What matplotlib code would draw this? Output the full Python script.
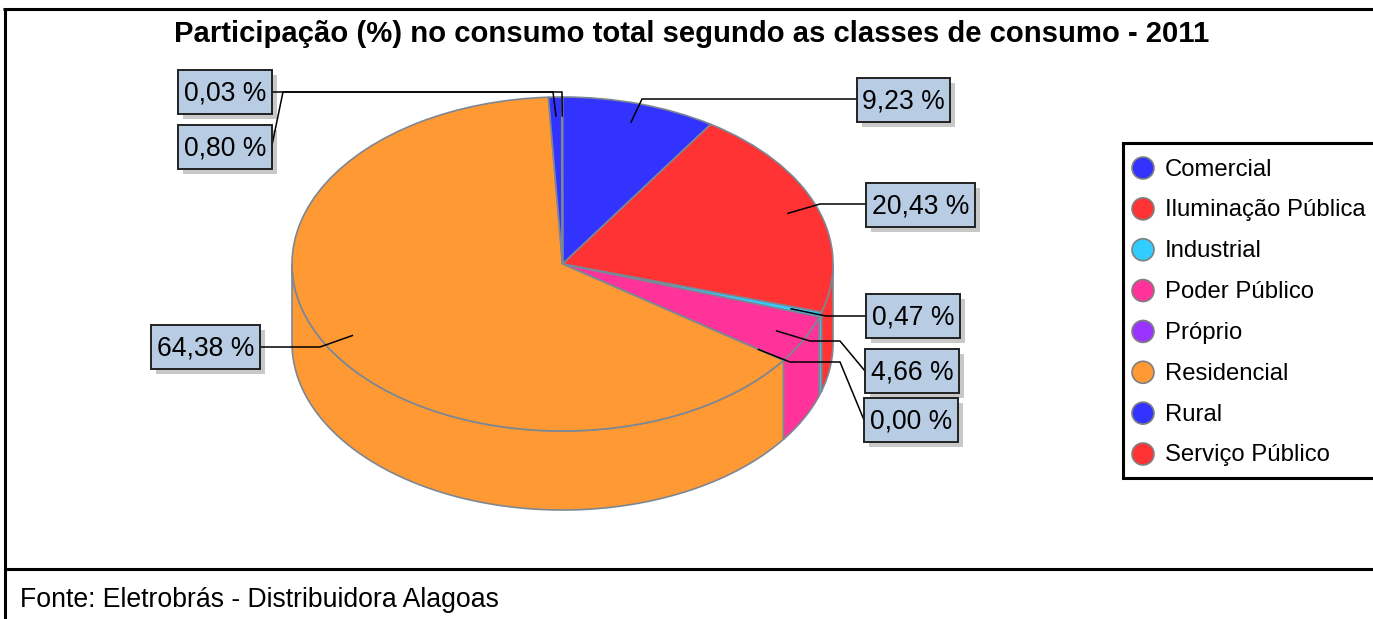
"""
Participação no consumo total - pizza 3D
"""

import numpy as np
import matplotlib
matplotlib.use("Agg")
import matplotlib.pyplot as plt
from matplotlib.patches import Rectangle

# Data
classes = ['Comercial', 'Iluminação Pública', 'Industrial', 'Poder Público',
           'Próprio', 'Residencial', 'Rural', 'Serviço Público']
shares = [9.23, 20.43, 0.47, 4.66, 0.00, 64.38, 0.80, 0.03]
colors = ['#3333ff', '#ff3333', '#33ccff', '#ff3399',
          '#9933ff', '#ff9933', '#3333ff', '#ff3333']
title = 'Participação (%) no consumo total segundo as classes de consumo - 2011'
source = 'Fonte: Eletrobrás - Distribuidora Alagoas'

W, H = 1373, 619
CX, CY, RX, RY, DEPTH = 562.5, 264, 270.5, 167, 79
EDGE = '#7d8794'

plt.rcParams['font.family'] = ['Liberation Sans', 'DejaVu Sans']

fig = plt.figure(figsize=(W / 100, H / 100), dpi=100)

# Overlay axes in pixel coordinates for frame, labels and legend
ax = fig.add_axes([0, 0, 1, 1], zorder=2)
ax.set_xlim(0, W)
ax.set_ylim(H, 0)
ax.axis('off')
ax.patch.set_alpha(0)

# Pie axes: unit circle squashed into the ellipse
pie_ax = fig.add_axes([(CX - RX) / W, 1 - (CY + RY) / H, 2 * RX / W, 2 * RY / H], zorder=1)
pie_ax.pie(shares, colors=colors, startangle=90, counterclock=False,
           wedgeprops={'edgecolor': EDGE, 'linewidth': 1.2, 'zorder': 3})
pie_ax.set_aspect('auto')
pie_ax.set_xlim(-1, 1)
pie_ax.set_ylim(-1, 1)

# Side wall of the disc, only the front half (90..270 deg clockwise from top)
total = sum(shares)
edges = np.concatenate([[0], np.cumsum(shares)]) / total * 360
drop = 2 * DEPTH / (2 * RY)
for i, color in enumerate(colors):
    t0, t1 = max(edges[i], 90), min(edges[i + 1], 270)
    if t1 <= t0:
        continue
    t = np.radians(np.linspace(t0, t1, 120))
    x = np.sin(t)
    y = np.cos(t)
    xs = np.concatenate([x, x[::-1]])
    ys = np.concatenate([y, y[::-1] - drop])
    pie_ax.fill(xs, ys, facecolor=color, edgecolor=EDGE, linewidth=1.2,
                clip_on=False, zorder=1)

# Value labels: box corners and leader elbows in pixels
label_boxes = [(857, 78, 950, 122), (866, 183, 975, 227), (866, 294, 960, 338),
               (865, 349, 959, 393), (864, 398, 958, 442), (151, 325, 260, 369),
               (178, 125, 272, 169), (178, 70, 272, 114)]
label_elbows = [[(642, 99), (838, 99), (857, 99)],
                [(820, 204), (866, 204)],
                [(826, 316), (866, 316)],
                [(810, 341), (840, 341), (865, 371)],
                [(790, 362), (840, 362), (864, 420)],
                [(320, 347), (260, 347)],
                [(553, 92), (283, 92), (272, 145)],
                [(562, 92), (283, 92), (272, 92)]]

mids = (edges[:-1] + edges[1:]) / 2
for i, share in enumerate(shares):
    x0, y0, x1, y1 = label_boxes[i]
    ax_x = CX + 0.887 * RX * np.sin(np.radians(mids[i]))
    ax_y = CY - 0.887 * RY * np.cos(np.radians(mids[i]))
    pts = [(ax_x, ax_y)] + label_elbows[i]
    ax.plot([p[0] for p in pts], [p[1] for p in pts], color='black', lw=1.1,
            solid_joinstyle='miter', zorder=4.5)
    ax.add_patch(Rectangle((x0 + 5, y0 + 5), x1 - x0, y1 - y0, facecolor='#c8c8c8',
                           edgecolor='none', zorder=4))
    ax.add_patch(Rectangle((x0, y0), x1 - x0, y1 - y0, facecolor='#b8cce4',
                           edgecolor='#222222', lw=1.4, zorder=5))
    ax.text((x0 + x1) / 2, (y0 + y1) / 2 + 1.5, f'{share:.2f} %'.replace('.', ','),
            ha='center', va='center', fontsize=19.1, color='black', zorder=6)

# Frame
ax.plot([3, W], [9, 9], color='black', lw=2.2, solid_capstyle='butt')
ax.plot([4.5, 4.5], [8, H], color='black', lw=2.2, solid_capstyle='butt')
ax.plot([5, W], [569, 569], color='black', lw=2.2, solid_capstyle='butt')

ax.text(692, 33.5, title, ha='center', va='center', fontsize=21.05, fontweight='bold')
ax.text(20, 600, source, ha='left', va='center', fontsize=19.2)

# Legend
ax.plot([W, 1122.5, 1122.5, W], [143, 143, 478, 478], color='black', lw=2.2,
        solid_joinstyle='miter')
legend_y = np.linspace(168, 454, len(classes))
ax.scatter([1143] * len(classes), legend_y, s=250, c=colors, edgecolors='#808080',
           linewidths=1.2, zorder=3)
for name, y in zip(classes, legend_y):
    ax.text(1165, y + 1.5, name, ha='left', va='center', fontsize=17.2)

fig.savefig('out.png', dpi=100)
